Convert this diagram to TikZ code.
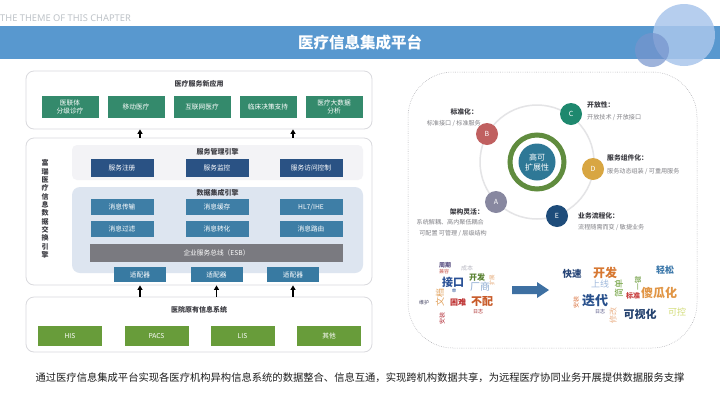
\documentclass[tikz,border=0pt]{standalone}
\usepackage{fontspec}
\setmainfont{Noto Sans CJK SC}
\newfontfamily\latinfont{Noto Sans}
\usetikzlibrary{arrows.meta}
\definecolor{bandblue}{RGB}{88,152,207}
\definecolor{circlight}{RGB}{170,198,236}
\definecolor{circdark}{RGB}{118,148,205}
\definecolor{appgreen}{RGB}{52,138,108}
\definecolor{mgmtblue}{RGB}{42,82,132}
\definecolor{datablue}{RGB}{62,126,166}
\definecolor{esbgrey}{RGB}{122,122,128}
\definecolor{adaptblue}{RGB}{56,122,162}
\definecolor{sysgreen}{RGB}{104,156,58}
\definecolor{mgmtbg}{RGB}{243,243,246}
\definecolor{databg}{RGB}{221,229,240}
\definecolor{framegrey}{RGB}{218,218,222}
\definecolor{titlegrey}{RGB}{60,60,66}
\definecolor{txtgrey}{RGB}{130,130,135}
\definecolor{orbitgrey}{RGB}{228,228,230}
\definecolor{ringgreen}{RGB}{96,140,62}
\definecolor{coreblue}{RGB}{46,120,150}
\definecolor{cA}{RGB}{136,136,160}
\definecolor{cB}{RGB}{192,96,96}
\definecolor{cC}{RGB}{30,136,110}
\definecolor{cD}{RGB}{216,166,66}
\definecolor{cE}{RGB}{30,76,122}
\definecolor{arrowblue}{RGB}{62,112,162}
\definecolor{dotgrey}{RGB}{165,165,170}
\tikzset{
  fs/.style={font=\fontsize{#1}{#1}\selectfont},
  fsb/.style={font=\fontsize{#1}{#1}\selectfont\bfseries},
  every node/.style={inner sep=0pt},
  outerbox/.style={draw=framegrey, line width=0.8pt, rounded corners=8pt, fill=white, minimum width=346},
  blk/.style={text=white, align=center, font=\fontsize{6.7}{8.5}\selectfont},
  appbox/.style={blk, fill=appgreen, minimum width=57, minimum height=22},
  mgmtbox/.style={blk, fill=mgmtblue, minimum width=63, minimum height=18},
  databox/.style={blk, fill=datablue, minimum width=63, minimum height=16},
  adbox/.style={blk, fill=adaptblue, minimum width=52, minimum height=15},
  sysbox/.style={blk, fill=sysgreen, minimum width=64, minimum height=20},
  sectitle/.style={text=titlegrey, font=\fontsize{7}{7}\selectfont\bfseries},
  uparrow/.style={line width=1.3pt, -{Triangle[length=4.5pt,width=5pt]}},
  letter/.style={circle, minimum size=22, text=white, font=\fontsize{7}{7}\selectfont},
  lhead/.style={text=titlegrey, font=\fontsize{6.8}{6.8}\selectfont\bfseries},
  ltext/.style={text=txtgrey, font=\fontsize{6.1}{6.1}\selectfont},
}
\begin{document}
\begin{tikzpicture}[x=1pt,y=-1pt]
\useasboundingbox (0,0) rectangle (720,405);
\fill[white] (0,0) rectangle (720,405);

% header
\node[anchor=west, text={rgb,255:red,190;green,195;blue,200}, font=\latinfont\fontsize{9.3}{9.3}\selectfont] (theme) at (0,18) {THE THEME OF THIS CHAPTER};
\fill[bandblue] (0,26) rectangle (720,59);
\fill[circlight, opacity=0.85] (684,35) circle (31);
\fill[circdark, opacity=0.7] (652,50) circle (17);
\node[text=white, font=\fontsize{15.5}{15.5}\selectfont\bfseries] (title) at (360,43) {医疗信息集成平台};

% ---------- left diagram ----------
\node[outerbox, minimum height=58] (top) at (199,100) {};
\node[sectitle] (toptitle) at (199,84) {医疗服务新应用};
\node[appbox] (app1) at (70,107) {医联体\\分级诊疗};
\node[appbox] (app2) at (136,107) {移动医疗};
\node[appbox] (app3) at (202,107) {互联网医疗};
\node[appbox] (app4) at (268,107) {临床决策支持};
\node[appbox] (app5) at (334,107) {医疗大数据\\分析};

\node[outerbox, minimum height=147] (mid) at (199,211.5) {};
\node[fill=mgmtbg, rounded corners=5pt, minimum width=291, minimum height=35] (mgmt) at (217.5,162.5) {};
\node[sectitle] (mgmttitle) at (217.5,152) {服务管理引擎};
\node[mgmtbox] (m1) at (122,168) {服务注册};
\node[mgmtbox] (m2) at (217,168) {服务监控};
\node[mgmtbox] (m3) at (311,168) {服务访问控制};

\node[fill=databg, rounded corners=8pt, minimum width=291, minimum height=86] (data) at (217.5,230) {};
\node[sectitle] (datatitle) at (217.5,193) {数据集成引擎};
\node[databox] (d1) at (122,207) {消息传输};
\node[databox] (d2) at (217,207) {消息缓存};
\node[databox] (d3) at (311,207) {HL7/IHE};
\node[databox] (d4) at (122,229) {消息过滤};
\node[databox] (d5) at (217,229) {消息转化};
\node[databox] (d6) at (311,229) {消息路由};
\node[blk, fill=esbgrey, minimum width=253, minimum height=18] (esb) at (216.5,253) {企业服务总线（ESB）};
\node[adbox] (ad1) at (140,274.5) {适配器};
\node[adbox] (ad2) at (216.5,274.5) {适配器};
\node[adbox] (ad3) at (293,274.5) {适配器};
\node[text=titlegrey, align=center, font=\fontsize{7}{8.35}\selectfont\bfseries] (vlabel) at (45,209)
  {富\\瑞\\医\\疗\\信\\息\\数\\据\\交\\换\\引\\擎};

\node[outerbox, minimum height=55] (bot) at (199,324.5) {};
\node[sectitle] (bottitle) at (199,310) {医院原有信息系统};
\node[sysbox] (s1) at (70,336) {HIS};
\node[sysbox] (s2) at (156.5,336) {PACS};
\node[sysbox] (s3) at (242.5,336) {LIS};
\node[sysbox] (s4) at (329,336) {其他};

\draw[uparrow] (ad1 |- mid.north) -- (ad1 |- top.south);
\draw[uparrow] (ad3 |- mid.north) -- (ad3 |- top.south);
\draw[uparrow] (ad1 |- bot.north) -- (ad1 |- mid.south);
\draw[uparrow] (ad2 |- bot.north) -- (ad2 |- mid.south);
\draw[uparrow] (ad3 |- bot.north) -- (ad3 |- mid.south);

% ---------- right panel ----------
\draw[dotgrey, line width=0.5pt, dash pattern=on 0.6pt off 1.2pt, rounded corners=45pt] (408,72) rectangle (697,348);

\coordinate (core) at (537,162);
\draw[orbitgrey, line width=1.5pt] (core) circle (57);
\draw[ringgreen, line width=5pt] (core) circle (27);
\node[circle, fill=coreblue, minimum size=37, text=white, align=center, font=\fontsize{8}{10}\selectfont] (corec) at (core) {高可\\扩展性};

\node[letter, fill=cA] (A) at (496,202) {A};
\node[letter, fill=cB] (B) at (487,134) {B};
\node[letter, fill=cC] (C) at (571,114) {C};
\node[letter, fill=cD] (D) at (593,169) {D};
\node[letter, fill=cE] (E) at (557,216) {E};

\node[lhead, anchor=east] (hB) at (478,112) {标准化：};
\node[ltext, anchor=east] (tB) at (481,123) {标准接口 / 标准服务};
\node[lhead, anchor=west] (hC) at (587,105) {开放性：};
\node[ltext, anchor=west] (tC) at (587,117) {开放技术 / 开放接口};
\node[lhead, anchor=west] (hD) at (607,158) {服务组件化：};
\node[ltext, anchor=west] (tD) at (607,171) {服务动态组装 / 可重用服务};
\node[lhead, anchor=east] (hA) at (484,212) {架构灵活：};
\node[ltext, anchor=east] (tA1) at (484,222) {系统解耦、高内聚低耦合};
\node[ltext, anchor=east] (tA2) at (487,233) {可配置 可管理 / 层级结构};
\node[lhead, anchor=west] (hE) at (578,216) {业务流程化：};
\node[ltext, anchor=west] (tE) at (578,227) {流程随需而变 / 敏捷业务};

% word cloud left
\node[fsb=6, text={rgb,255:red,90;green,80;blue,130}] (w1) at (445,265) {周期};
\node[fs=5, text={rgb,255:red,200;green,90;blue,80}] (w2) at (444,272) {兼容};
\node[fs=6, text={rgb,255:red,185;green,185;blue,195}] (w3) at (467,268) {成本};
\node[fsb=11, text={rgb,255:red,40;green,80;blue,150}] (w4) at (453,282) {接口};
\node[fsb=8, text={rgb,255:red,90;green,130;blue,50}] (w5) at (477,277) {开发};
\node[fs=5.5, rotate=90, text={rgb,255:red,230;green,170;blue,120}] (w6) at (492,280) {扩展};
\node[fs=10, text={rgb,255:red,140;green,170;blue,210}] (w7) at (480,287) {厂商};
\node[fs=9, rotate=90, text={rgb,255:red,225;green,160;blue,90}] (w8) at (440,297) {文档};
\node[fs=4.5, text={rgb,255:red,40;green,80;blue,150}] (w9) at (454,291) {单};
\node[fs=5, text={rgb,255:red,70;green,70;blue,100}] (w10) at (424,303) {维护};
\node[fsb=8, text={rgb,255:red,190;green,50;blue,50}] (w11) at (458,302) {困难};
\node[fsb=11, text={rgb,255:red,200;green,90;blue,40}] (w12) at (482,301) {不配};
\node[fs=5, text={rgb,255:red,170;green,40;blue,40}] (w13) at (478,312) {日志};
\node[fs=6, rotate=90, text={rgb,255:red,180;green,50;blue,60}] (w14) at (442,318) {安装};

% arrow
\fill[arrowblue] (512,286) -- (537,286) -- (537,282) -- (549,290) -- (537,298) -- (537,294) -- (512,294) -- cycle;

% word cloud right
\node[fsb=9.5, text={rgb,255:red,40;green,70;blue,120}] (r1) at (572,274) {快速};
\node[fsb=12, text={rgb,255:red,215;green,120;blue,50}] (r2) at (605,273) {开发};
\node[fsb=9, text={rgb,255:red,60;green,120;blue,170}] (r3) at (665,270) {轻松};
\node[fs=9, text={rgb,255:red,160;green,185;blue,220}] (r4) at (600,284) {上线};
\node[fs=9, rotate=90, text={rgb,255:red,110;green,160;blue,60}] (r5) at (619,288) {简单};
\node[fs=7, rotate=90, text={rgb,255:red,100;green,150;blue,50}] (r6) at (638,283) {一键};
\node[fsb=7, text={rgb,255:red,200;green,60;blue,60}] (r7) at (633,296) {标准};
\node[fsb=12, text={rgb,255:red,225;green,150;blue,70}] (r8) at (659,293) {傻瓜化};
\node[fs=6, rotate=90, text={rgb,255:red,220;green,120;blue,70}] (r9) at (576,302) {安装};
\node[fsb=13, text={rgb,255:red,40;green,80;blue,140}] (r10) at (595,301) {迭代};
\node[fs=5, text={rgb,255:red,80;green,80;blue,130}] (r11) at (600,312) {日志};
\node[fs=8, rotate=90, text={rgb,255:red,235;green,180;blue,140}] (r12) at (613,315) {修改};
\node[fsb=11, text={rgb,255:red,35;green,65;blue,110}] (r13) at (640,314) {可视化};
\node[fs=9, text={rgb,255:red,210;green,220;blue,120}] (r14) at (677,312) {可控};

% bottom sentence
\node[fs=10.3, text={rgb,255:red,30;green,30;blue,30}] (caption) at (360,378) {通过医疗信息集成平台实现各医疗机构异构信息系统的数据整合、信息互通，实现跨机构数据共享，为远程医疗协同业务开展提供数据服务支撑};
\end{tikzpicture}
\end{document}
